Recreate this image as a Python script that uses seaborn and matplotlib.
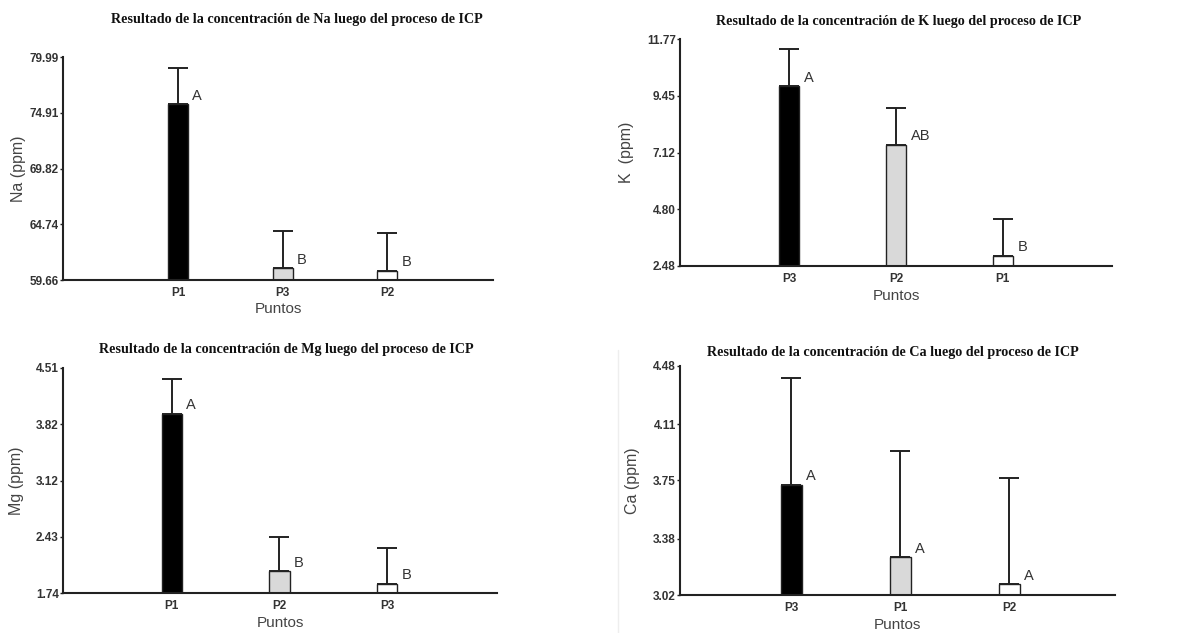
import matplotlib
matplotlib.use("Agg")
import matplotlib.pyplot as plt
import seaborn as sns
import pandas as pd
import numpy as np
from matplotlib.lines import Line2D

sns.set_theme(style="white")
plt.rcParams['font.family'] = ['Liberation Sans', 'DejaVu Sans']

# ---- Data ----
na_cats = ["P1", "P3", "P2"]
na_vals = [75.68, 60.72, 60.51]
na_err_top = [78.99, 64.12, 63.91]
na_letters = ["A", "B", "B"]
na_ticks = ["59.66", "64.74", "69.82", "74.91", "79.99"]

k_cats = ["P3", "P2", "P1"]
k_vals = [9.84, 7.44, 2.90]
k_err_top = [11.36, 8.96, 4.39]
k_letters = ["A", "AB", "B"]
k_ticks = ["2.48", "4.80", "7.12", "9.45", "11.77"]

mg_cats = ["P1", "P2", "P3"]
mg_vals = [3.948, 2.007, 1.855]
mg_err_top = [4.37, 2.434, 2.29]
mg_letters = ["A", "B", "B"]
mg_ticks = ["1.74", "2.43", "3.12", "3.82", "4.51"]

ca_cats = ["P3", "P1", "P2"]
ca_vals = [3.723, 3.26, 3.088]
ca_err_top = [4.403, 3.94, 3.768]
ca_letters = ["A", "A", "A"]
ca_ticks = ["3.02", "3.38", "3.75", "4.11", "4.48"]

titles = [
    "Resultado de la concentración de Na luego del proceso de ICP",
    "Resultado de la concentración de K luego del proceso de ICP",
    "Resultado de la concentración de Mg luego del proceso de ICP",
    "Resultado de la concentración de Ca luego del proceso de ICP",
]
ylabels = ["Na (ppm)", "K  (ppm)", "Mg (ppm)", "Ca (ppm)"]
xlabel = "Puntos"

# ---- Layout ----
W, H = 1177, 633
fig = plt.figure(figsize=(W / 100, H / 100), dpi=100)

def px_axes(left, right, top, bottom):
    return fig.add_axes([left / W, 1 - bottom / H, (right - left) / W, (bottom - top) / H])

panels = [
    dict(cats=na_cats, vals=na_vals, err=na_err_top, letters=na_letters, ticks=na_ticks,
         box=(63, 493, 57, 280), xlim=(-1.10, 3.01), title_xy=(297, 20), ylab_x=18, xlab_y=309),
    dict(cats=k_cats, vals=k_vals, err=k_err_top, letters=k_letters, ticks=k_ticks,
         box=(680, 1112, 39, 266), xlim=(-1.02, 3.02), title_xy=(899, 22), ylab_x=627, xlab_y=296),
    dict(cats=mg_cats, vals=mg_vals, err=mg_err_top, letters=mg_letters, ticks=mg_ticks,
         box=(63, 497, 368, 593), xlim=(-1.01, 3.02), title_xy=(286, 350), ylab_x=17, xlab_y=623),
    dict(cats=ca_cats, vals=ca_vals, err=ca_err_top, letters=ca_letters, ticks=ca_ticks,
         box=(680, 1115, 366, 595), xlim=(-1.02, 2.97), title_xy=(893, 353), ylab_x=633, xlab_y=625),
]

bar_colors = ["#000000", "#d9d9d9", "#ffffff"]
axis_color = "#222222"

for i, p in enumerate(panels):
    left, right, top, bottom = p["box"]
    ax = px_axes(left, right, top, bottom)
    df = pd.DataFrame({"cat": p["cats"], "val": p["vals"]})
    sns.barplot(data=df, x="cat", y="val", hue="cat", order=p["cats"], hue_order=p["cats"],
                palette=bar_colors, edgecolor="#222222", linewidth=1.0, width=0.19,
                legend=False, ax=ax, errorbar=None)
    xs = np.arange(len(p["cats"]))
    vals = np.array(p["vals"])
    upper = np.array(p["err"]) - vals
    ax.errorbar(xs, vals, yerr=[np.zeros_like(upper), upper], fmt="none",
                ecolor="#222222", elinewidth=1.4, capsize=7.3, capthick=1.4, zorder=1)
    for x, v, lab in zip(xs, vals, p["letters"]):
        ax.annotate(lab, xy=(x + 0.11, v), xytext=(2, 1), textcoords="offset points",
                    ha="left", va="bottom", fontsize=10.5, color="#333333")
    tick_vals = [float(t) for t in p["ticks"]]
    ax.set_ylim(tick_vals[0], tick_vals[-1])
    ax.set_yticks(tick_vals)
    ax.set_yticklabels(p["ticks"], fontsize=8.5, fontweight="bold", color="#333333")
    ax.set_xlim(*p["xlim"])
    ax.set_xticks(xs)
    ax.set_xticklabels(p["cats"], fontsize=8.5, fontweight="bold", color="#333333")
    ax.set_xticks([p["xlim"][1]], minor=True)
    ax.tick_params(axis="x", which="major", length=0, pad=5)
    ax.tick_params(axis="x", which="minor", length=3, width=1.2, color=axis_color, direction="out")
    ax.tick_params(axis="y", length=2.5, width=1.0, color=axis_color, pad=0.5, left=True)
    for s in ["top", "right"]:
        ax.spines[s].set_visible(False)
    for s in ["left", "bottom"]:
        ax.spines[s].set_color(axis_color)
        ax.spines[s].set_linewidth(1.5)
    ax.set_xlabel("")
    ax.set_ylabel("")
    ax.patch.set_alpha(0)
    tx, ty = p["title_xy"]
    fig.text(tx / W, 1 - ty / H, titles[i], ha="center", va="center",
             fontsize=10.2, fontweight="bold", family=["Liberation Serif", "DejaVu Serif"], color="#111111")
    fig.text(p["ylab_x"] / W, 1 - ((top + bottom) / 2) / H, ylabels[i], rotation=90,
             ha="center", va="center", fontsize=11.5, color="#444444")
    fig.text(((left + right) / 2) / W, 1 - p["xlab_y"] / H, xlabel, ha="center", va="center",
             fontsize=11, color="#444444")

# faint border line seen in the lower-right image
fig.add_artist(Line2D([618 / W, 618 / W], [1 - 350 / H, 0], color="#eeeeee", linewidth=1))

fig.savefig("out.png", dpi=100, facecolor="white")
